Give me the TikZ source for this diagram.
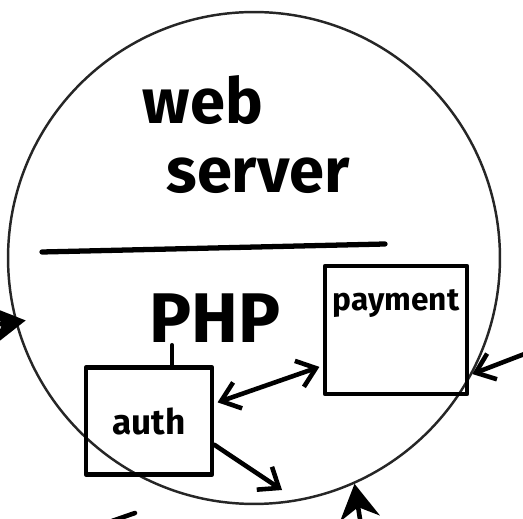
\documentclass[tikz,border=0pt]{standalone}
\usepackage{fontspec}
\setmainfont{Fira Sans}
\usetikzlibrary{arrows.meta,positioning}
\tikzset{
  pen/.style={draw=black,line width=2.6pt,line cap=round,line join=round},
  rim/.style={draw=black!85,line width=1.4pt},
  hand/.style={font=\fontsize{36}{36}\selectfont\bfseries,inner sep=0pt},
  box/.style={pen,rectangle,inner sep=0pt,align=center},
  flow/.style={pen,-{Straight Barb[length=3.5mm,width=5.5mm]}},
  bflow/.style={pen,{Straight Barb[length=3.5mm,width=5.5mm]}-{Straight Barb[length=3.5mm,width=5.5mm]}},
  inflow/.style={pen,-{Stealth[length=7mm,width=8mm]}}
}
\begin{document}
\begin{tikzpicture}[x=0.02cm,y=-0.02cm]
  \useasboundingbox (0,0) rectangle (523,519);
  % the server circle
  \node[circle,rim,minimum size=9.84cm,inner sep=0pt] (web) at (254,258) {};
  \node[hand] (webtxt) at (203,100) {web};
  \node[hand] (srvtxt) at (258,176) {server};
  \draw[pen,line width=3pt] (42,252) -- (385,244);
  % PHP part
  \node[font=\fontsize{40}{40}\selectfont\bfseries,inner sep=0pt] (php) at (215,318) {PHP};
  \node[box,minimum width=2.52cm,minimum height=2.14cm,font=\fontsize{20}{20}\selectfont\bfseries] (auth) at (149,421) {auth};
  \draw[pen] ([xshift=0.46cm]auth.north) -- ++(0,-20);
  \node[box,minimum width=2.84cm,minimum height=2.56cm] (pay) at (396,330) {};
  \node[font=\fontsize{18}{18}\selectfont\bfseries,inner sep=0pt] (paytxt) at ([yshift=-0.8cm]pay.north) {payment};
  \draw[bflow,shorten <=2pt,shorten >=2pt] (auth.15) -- (pay.206);
  \coordinate (aout) at (282,490);
  \draw[flow] (auth.-20) -- (aout);
  % arrows coming in
  \coordinate (lin) at (-40,330);
  \coordinate (rin) at (540,348);
  \coordinate (bin) at (364,545);
  \draw[inflow,shorten >=-6pt] (lin) -- (web.195);
  \draw[flow] (rin) -- (web.-28);
  \draw[inflow] (bin) -- (web.-66);
  \draw[pen] (112,521) -- (135,513);
\end{tikzpicture}
\end{document}
